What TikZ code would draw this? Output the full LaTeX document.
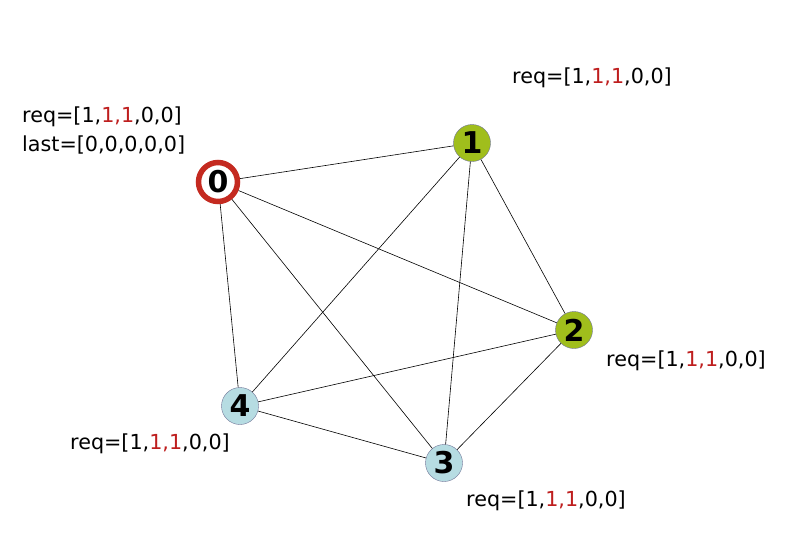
\documentclass[tikz,border=0pt]{standalone}
\usepackage{fontspec}
\setmainfont{DejaVu Sans}
\usetikzlibrary{positioning}
\definecolor{leafgreen}{RGB}{160,190,28}
\definecolor{paleblue}{RGB}{182,220,226}
\definecolor{ringred}{RGB}{196,42,32}
\definecolor{reqred}{RGB}{190,30,30}
\definecolor{rimgray}{RGB}{110,115,150}
\newcommand{\reqvec}{req=[1,{\color{reqred}1,1},0,0]}
\begin{document}
\begin{tikzpicture}[x=1pt,y=-1pt,
    vertex/.style={circle,draw=rimgray,thin,minimum size=37pt,inner sep=0pt,
        font=\fontsize{30}{30}\bfseries\selectfont},
    info/.style={anchor=west,inner sep=0pt,font=\fontsize{20.7}{22}\selectfont}]
    \useasboundingbox (0,0) rectangle (792,557);

    % processes
    \node[vertex,fill=white,draw=ringred,line width=5.5pt,minimum size=39pt] (n0) at (218,182) {0};
    \node[vertex,fill=leafgreen] (n1) at (472,143) {1};
    \node[vertex,fill=leafgreen] (n2) at (574,330) {2};
    \node[vertex,fill=paleblue] (n3) at (444,463) {3};
    \node[vertex,fill=paleblue] (n4) at (240,406) {4};

    % channels
    \draw[line width=0.6pt] (n0) -- (n1);
    \draw[line width=0.6pt] (n0) -- (n2);
    \draw[line width=0.6pt] (n0) -- (n3);
    \draw[line width=0.6pt] (n0) -- (n4);
    \draw[line width=0.6pt] (n1) -- (n2);
    \draw[line width=0.6pt] (n1) -- (n3);
    \draw[line width=0.6pt] (n1) -- (n4);
    \draw[line width=0.6pt] (n2) -- (n3);
    \draw[line width=0.6pt] (n2) -- (n4);
    \draw[line width=0.6pt] (n3) -- (n4);

    % local state
    \node[info] (r0) at (22,117) {\reqvec};
    \node[info] (l0) at (22,145) {last=[0,0,0,0,0]};
    \node[info] (r1) at (512,78) {\reqvec};
    \node[info] (r2) at (606,361) {\reqvec};
    \node[info] (r3) at (466,501) {\reqvec};
    \node[info] (r4) at (70,444) {\reqvec};
\end{tikzpicture}
\end{document}
